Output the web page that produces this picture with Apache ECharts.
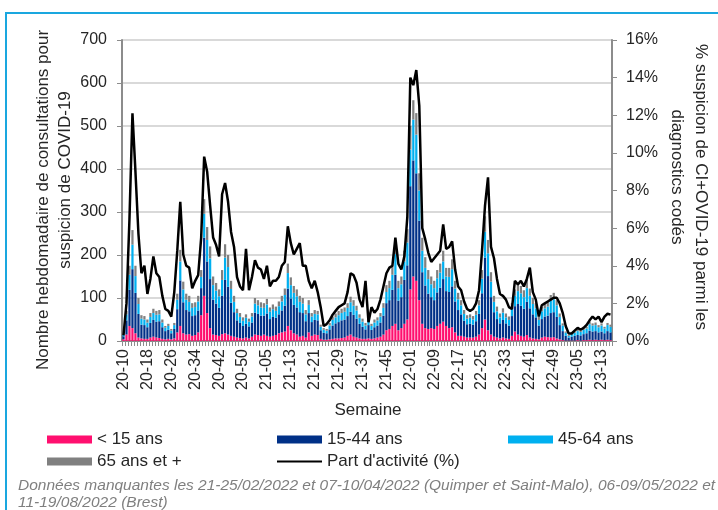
<!DOCTYPE html>
<html><head><meta charset="utf-8">
<script src="https://cdn.jsdelivr.net/npm/echarts@6/dist/echarts.min.js"></script>
<style>html,body{margin:0;padding:0;background:#fff}#c{width:718px;height:510px}</style>
</head><body><div id="c"></div>
<script>
// Week categories: 2020-W10 .. 2023-W16
const yearWeeks = [["20", 10, 53], ["21", 1, 52], ["22", 1, 52], ["23", 1, 16]];
const weeks = [];
yearWeeks.forEach(([y, a, b]) => { for (let w = a; w <= b; w++) weeks.push(y + "-" + (w < 10 ? "0" + w : w)); });

const under15 = [4,15,35,30,18,8,6,5,5,8, 10,8,7,5,4,5,4,6,20,35, 18,15,16,12,14,20,60,105,65,30, 15,14,12,16,18,15,12,10,8,7, 6,8,6,10,15,14,12,15,12,10, 12,14,18,20,22,35,25,18,15,10, 12,8,20,12,15,14,5,3,3,4, 5,6,6,7,8,12,15,10,8,6, 5,5,6,5,6,8,10,15,25,28, 35,40,25,30,40,50,120,150,140,95, 40,30,28,30,28,35,40,45,35,30, 32,20,12,12,10,8,8,8,10,15, 30,50,25,15,10,8,6,8,6,5, 12,22,15,12,10,14,8,6,5,4, 8,10,9,8,9,6,4,2,1,1, 1,1,2,1,2,2,3,2,3,2, 3,2,3,2];
const age15to44 = [7,33,84,137,94,55,32,32,27,34, 39,37,39,27,19,21,14,22,54,106, 72,57,53,46,46,51,63,135,120,114, 81,73,65,89,124,111,77,57,40,35, 29,32,28,33,51,49,47,44,52,41, 44,40,44,51,60,87,74,66,63,57, 53,38,45,32,34,34,20,16,15,23, 31,35,38,41,42,46,53,51,44,34, 28,22,31,21,26,28,33,44,63,67, 84,114,69,72,102,126,240,270,250,185, 120,99,82,72,67,78,84,99,81,84, 95,72,60,50,37,31,32,30,36,48, 81,144,126,87,57,43,35,41,35,31, 46,59,71,70,65,77,68,56,50,32, 43,47,50,57,58,50,33,21,11,7, 9,11,12,12,14,16,21,20,20,18, 19,16,20,18];
const age45to64 = [3,14,35,57,39,23,14,13,11,14, 16,16,16,11,8,9,6,9,22,44, 30,24,22,19,19,21,26,56,50,48, 34,30,27,37,52,46,32,24,17,14, 12,14,11,14,21,20,19,18,21,17, 18,16,19,21,25,36,31,28,26,24, 22,16,19,13,14,14,8,7,6,9, 13,14,16,17,18,19,22,21,19,14, 12,9,13,9,11,12,14,18,26,28, 35,48,29,30,43,53,85,95,90,70, 50,41,34,30,28,33,35,41,34,35, 40,30,25,21,16,13,14,12,15,20, 34,60,53,36,24,18,14,17,14,13, 19,24,30,29,27,32,29,24,21,13, 18,19,21,28,30,27,19,13,7,4, 6,7,9,8,10,11,15,14,14,12, 14,11,14,13];
const age65plus = [1,8,21,34,24,14,8,8,7,9, 10,9,10,7,4,5,4,5,14,27, 18,14,14,11,11,13,16,34,30,28, 20,18,16,23,31,28,19,14,10,9, 8,8,7,8,13,12,12,11,13,10, 11,10,11,13,15,22,18,16,16,14, 13,10,11,8,9,8,5,4,4,6, 8,9,10,10,10,11,13,13,11,8, 7,6,7,5,7,7,8,11,16,17, 21,28,17,18,25,31,55,45,50,40, 30,25,21,18,17,19,21,25,20,21, 23,18,15,12,9,8,8,8,9,12, 20,36,31,22,14,11,9,10,9,8, 11,15,18,17,16,19,17,14,12,8, 11,12,12,14,15,12,8,5,3,2, 2,3,3,3,3,4,6,5,6,5, 5,4,5,5];
const activityPct = [0.3,2.0,6.5,12.1,9.0,5.7,3.6,4.0,2.5,3.3, 4.5,3.6,3.4,2.4,1.7,1.6,1.3,2.6,4.8,7.4, 4.6,4.0,3.9,2.8,3.2,3.5,5.5,9.8,9.0,7.2, 5.5,5.1,4.5,7.8,8.4,7.4,5.8,5.0,3.4,2.9, 2.7,4.9,2.7,3.4,4.3,3.9,3.8,3.3,4.0,2.9, 3.2,3.2,3.4,4.0,4.2,6.1,5.2,4.6,4.9,5.2, 4.0,4.0,3.2,2.8,3.2,2.6,1.8,0.8,0.9,1.1, 1.4,1.6,1.8,1.9,2.0,2.6,3.6,3.5,3.1,2.2, 1.8,3.2,1.0,1.8,1.5,1.7,2.2,2.9,3.6,3.9, 4.0,5.5,4.1,3.8,4.5,6.6,14.0,13.6,14.4,12.5, 6.0,5.4,4.7,4.2,4.4,4.6,4.8,6.2,4.9,5.0, 5.3,3.8,2.9,2.7,2.1,1.7,1.6,1.7,2.0,2.7, 4.8,7.2,8.7,5.0,4.4,3.3,2.5,2.4,2.2,1.8, 1.7,3.2,3.0,3.2,2.9,3.3,3.9,2.6,2.2,1.3, 1.9,2.0,2.1,2.2,2.3,2.3,2.0,1.5,0.8,0.4, 0.4,0.55,0.7,0.6,0.7,0.85,1.1,1.3,1.15,1.3, 1.0,1.3,1.45,1.4];

const leftTicks = [0, 700, 100];
const rightTicks = [0, 16, 2];
const names = ["< 15 ans", "15-44 ans", "45-64 ans", "65 ans et +", "Part d'activité (%)"];
const colors = ["#FF0F6F", "#003087", "#00B0F0", "#808080", "#000000"];

const FONT = "'Liberation Sans', Arial, sans-serif";
const TXT = "#262626";
const chart = echarts.init(document.getElementById('c'), null, {renderer: 'canvas'});

function barSeries(i, data) {
  return { name: names[i], type: 'bar', stack: 'total', data: data, yAxisIndex: 0,
    barCategoryGap: '25%', itemStyle: { color: colors[i] }, emphasis: { disabled: true } };
}
function legendAt(name, left, top, isLine) {
  return { data: [{ name: name, icon: 'rect' }], left: left, top: top, padding: 0, selectedMode: false,
    itemWidth: 45, itemHeight: isLine ? 2 : 8, itemGap: 0,
    textStyle: { fontSize: 17, fontFamily: FONT, color: TXT } };
}
function txt(text, x, y, rot, size) {
  return { type: 'text', x: x, y: y, rotation: rot, silent: true,
    style: { text: text, x: 0, y: 0, font: (size || 17) + 'px ' + FONT, fill: TXT, textAlign: 'center', textVerticalAlign: 'middle' } };
}

const axisGray = '#8c8c8c';
chart.setOption({
  animation: false,
  grid: { left: 122, right: 106, top: 40, bottom: 169 },
  xAxis: { type: 'category', data: weeks,
    axisLine: { lineStyle: { color: axisGray, width: 2 } },
    axisTick: { show: true, interval: 0, length: 5, lineStyle: { color: axisGray, width: 1 } },
    axisLabel: { interval: 7, rotate: 90, margin: 8, fontSize: 16, fontFamily: FONT, color: TXT } },
  yAxis: [
    { type: 'value', min: leftTicks[0], max: leftTicks[1], interval: leftTicks[2], position: 'left',
      axisLine: { show: true, lineStyle: { color: axisGray, width: 2 } },
      axisTick: { show: true, length: 5, lineStyle: { color: axisGray } },
      splitLine: { lineStyle: { color: '#d9d9d9', width: 2 } },
      axisLabel: { margin: 15, fontSize: 16, fontFamily: FONT, color: TXT } },
    { type: 'value', min: rightTicks[0], max: rightTicks[1], interval: rightTicks[2], position: 'right',
      axisLine: { show: true, lineStyle: { color: axisGray, width: 2 } },
      axisTick: { show: true, length: 5, lineStyle: { color: axisGray } },
      splitLine: { show: false },
      axisLabel: { margin: 14, fontSize: 16, fontFamily: FONT, color: TXT, formatter: '{value}%' } }
  ],
  legend: [
    legendAt(names[0], 47, 431),
    legendAt(names[1], 277, 431),
    legendAt(names[2], 508, 431),
    legendAt(names[3], 47, 453),
    legendAt(names[4], 277, 453, true)
  ],
  series: [
    barSeries(0, under15), barSeries(1, age15to44), barSeries(2, age45to64), barSeries(3, age65plus),
    { name: names[4], type: 'line', yAxisIndex: 1, data: activityPct, showSymbol: false, symbol: 'none',
      lineStyle: { color: '#000', width: 2.5 }, itemStyle: { color: '#000' }, z: 5, emphasis: { disabled: true } }
  ],
  graphic: [
    { type: 'rect', silent: true, z: -1, shape: { x: 6, y: 13, width: 800, height: 600 },
      style: { fill: 'none', stroke: '#1AA7DF', lineWidth: 2 } },
    txt('Nombre hebdomadaire de consultations pour', 43, 200, Math.PI / 2),
    txt('suspicion de COVID-19', 65, 180, Math.PI / 2),
    txt('% suspicion de CI+OVID-19 parmi les', 701, 187, -Math.PI / 2),
    txt('diagnostics codés', 677, 177, -Math.PI / 2),
    txt('Semaine', 368, 410, 0),
    { type: 'text', x: 18, y: 486, silent: true, style: { text: 'Données manquantes les 21-25/02/2022 et 07-10/04/2022 (Quimper et Saint-Malo), 06-09/05/2022 et',
      x: 0, y: 0, font: 'italic 15.5px ' + FONT, fill: '#7f7f7f', textAlign: 'left', textVerticalAlign: 'middle' } },
    { type: 'text', x: 18, y: 503, silent: true, style: { text: '11-19/08/2022 (Brest)',
      x: 0, y: 0, font: 'italic 15.5px ' + FONT, fill: '#7f7f7f', textAlign: 'left', textVerticalAlign: 'middle' } }
  ]
});
</script></body></html>
